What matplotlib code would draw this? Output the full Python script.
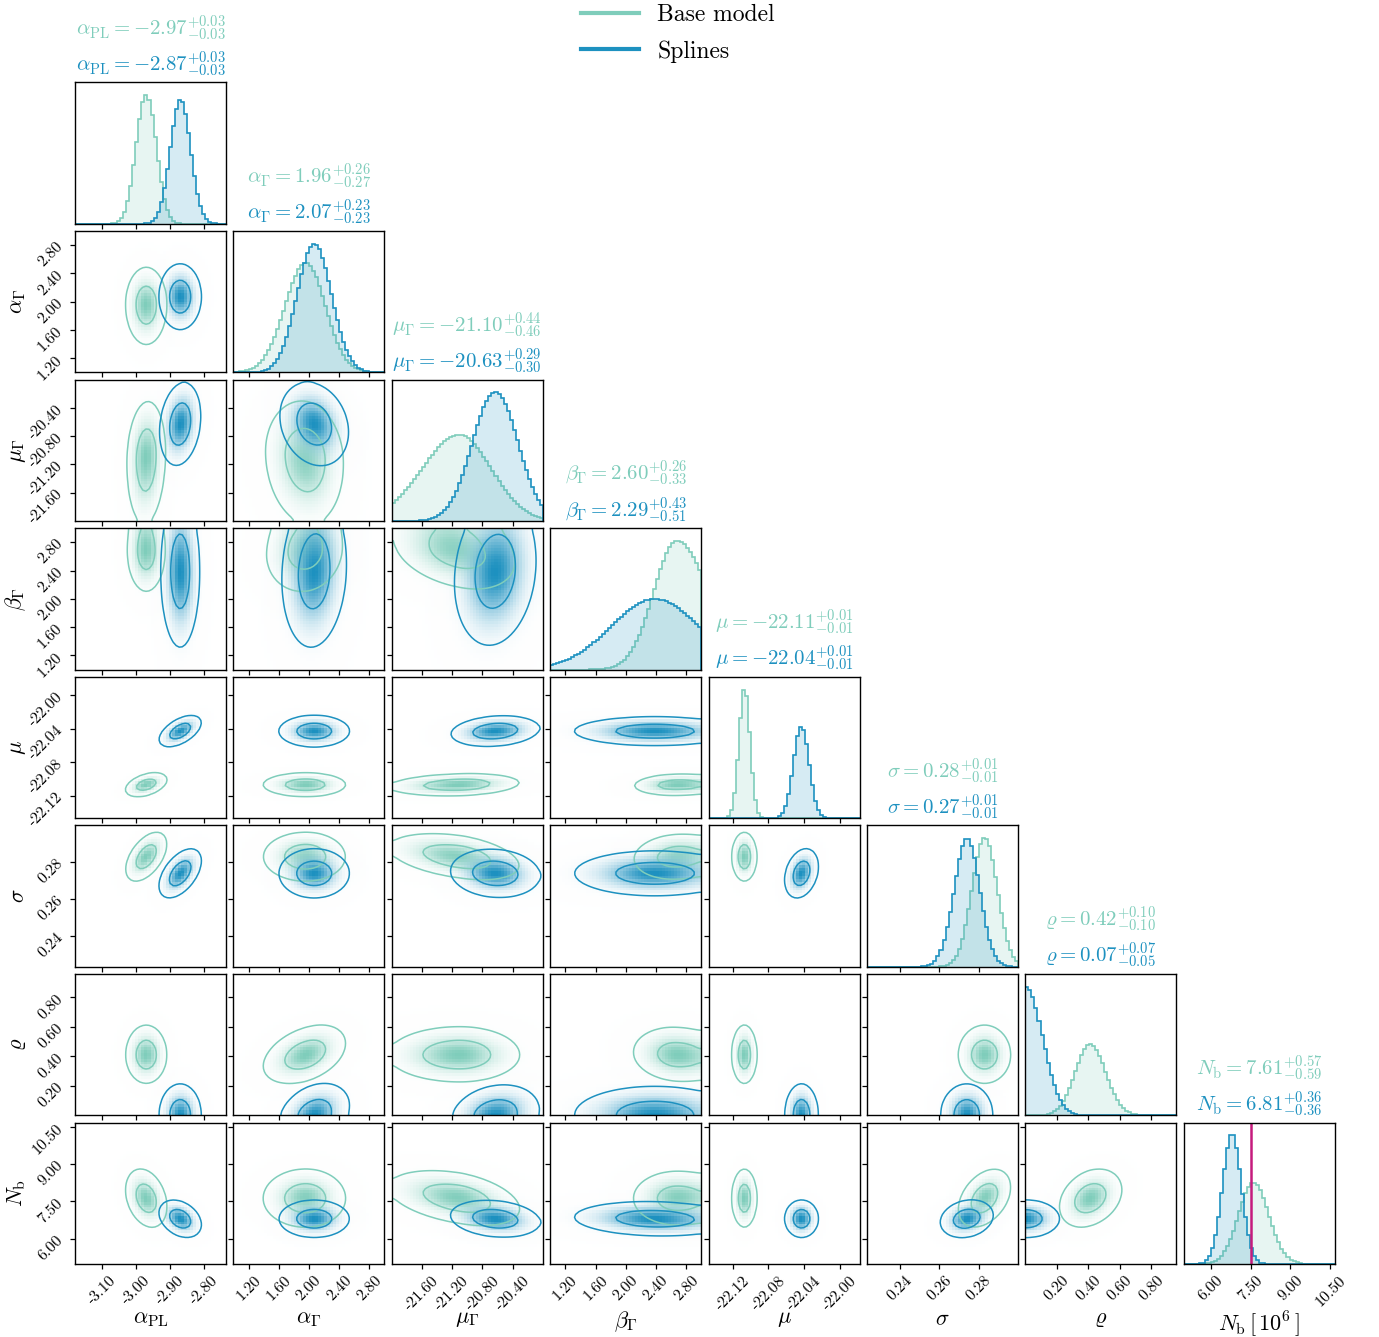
import numpy as np
import matplotlib
matplotlib.use('Agg')
import matplotlib.pyplot as plt
from matplotlib.colors import LinearSegmentedColormap, to_rgba
from matplotlib.lines import Line2D

plt.rcParams['font.family'] = 'serif'
plt.rcParams['font.serif'] = ['cmr10']
plt.rcParams['mathtext.fontset'] = 'cm'
plt.rcParams['axes.unicode_minus'] = False

green = '#7fcdbb'
blue = '#1d91c0'
truth_color = '#c51b7d'

symbols = [r'\alpha_{\rm PL}', r'\alpha_\Gamma', r'\mu_\Gamma', r'\beta_\Gamma',
           r'\mu', r'\sigma', r'\varrho', r'N_{\rm b}']
x_labels = [r'$\alpha_{\rm PL}$', r'$\alpha_\Gamma$', r'$\mu_\Gamma$', r'$\beta_\Gamma$',
            r'$\mu$', r'$\sigma$', r'$\varrho$', r'$N_{\rm b}\,[\,10^6\,]$']
y_labels = ['$%s$' % s for s in symbols]

# axis ranges and ticks per parameter
ranges = [(-3.18, -2.735), (1.0, 3.0), (-22.0, -20.0), (1.0, 3.0),
          (-22.147, -21.978), (0.2234, 0.300), (0.0, 0.96), (4.98, 10.67)]
ticks = [[-3.10, -3.00, -2.90, -2.80],
         [1.20, 1.60, 2.00, 2.40, 2.80],
         [-21.60, -21.20, -20.80, -20.40],
         [1.20, 1.60, 2.00, 2.40, 2.80],
         [-22.12, -22.08, -22.04, -22.00],
         [0.24, 0.26, 0.28],
         [0.20, 0.40, 0.60, 0.80],
         [6.00, 7.50, 9.00, 10.50]]
truth_nb = 7.50

# summary numbers (median, +err, -err)
base_med = [-2.97, 1.96, -21.10, 2.60, -22.11, 0.28, 0.42, 7.61]
base_up = [0.03, 0.26, 0.44, 0.26, 0.01, 0.01, 0.10, 0.57]
base_dn = [0.03, 0.27, 0.46, 0.33, 0.01, 0.01, 0.10, 0.59]
spl_med = [-2.87, 2.07, -20.63, 2.29, -22.04, 0.27, 0.07, 6.81]
spl_up = [0.03, 0.23, 0.29, 0.43, 0.01, 0.01, 0.07, 0.36]
spl_dn = [0.03, 0.23, 0.30, 0.51, 0.01, 0.01, 0.05, 0.36]

# posterior shapes: peak, lower width, upper width
base_peak = [-2.970, 1.96, -21.10, 2.68, -22.107, 0.283, 0.41, 7.62]
base_wlo = [0.029, 0.28, 0.50, 0.31, 0.0062, 0.0065, 0.095, 0.57]
base_whi = [0.029, 0.26, 0.42, 0.42, 0.0062, 0.0065, 0.100, 0.58]
spl_peak = [-2.870, 2.07, -20.63, 2.38, -22.043, 0.274, 0.005, 6.80]
spl_wlo = [0.030, 0.23, 0.30, 0.58, 0.0088, 0.0065, 0.104, 0.36]
spl_whi = [0.030, 0.23, 0.30, 0.60, 0.0088, 0.0065, 0.104, 0.36]

# pairwise correlations, row i holds (i, 0..i-1)
base_corr = [[],
             [0.0],
             [0.1, -0.1],
             [0.0, 0.1, -0.3],
             [0.5, 0.0, 0.2, 0.1],
             [0.55, 0.0, -0.4, 0.1, 0.0],
             [0.0, 0.4, 0.0, -0.1, 0.0, 0.0],
             [-0.3, 0.0, -0.4, 0.0, 0.0, 0.4, 0.3]]
spl_corr = [[],
            [0.0],
            [0.2, -0.2],
            [0.0, 0.1, 0.15],
            [0.6, 0.0, 0.2, 0.0],
            [0.55, 0.0, -0.1, 0.0, 0.3],
            [0.0, 0.3, 0.2, 0.0, 0.0, 0.0],
            [-0.35, 0.0, -0.2, -0.1, 0.0, 0.2, 0.0]]

models = [
    dict(color=green, peak=base_peak, wlo=base_wlo, whi=base_whi, corr=base_corr,
         med=base_med, up=base_up, dn=base_dn, name='Base model'),
    dict(color=blue, peak=spl_peak, wlo=spl_wlo, whi=spl_whi, corr=spl_corr,
         med=spl_med, up=spl_up, dn=spl_dn, name='Splines'),
]

nbins = 50
smooth = 1.0
levels = [1 - np.exp(-0.5), 1 - np.exp(-2.0)]
npar = len(symbols)


def split_z(x, p, wlo, whi):
    return np.where(x < p, (x - p) / wlo, (x - p) / whi)


def gauss_smooth(H, s):
    r = int(np.ceil(4 * s))
    k = np.exp(-0.5 * (np.arange(-r, r + 1) / s) ** 2)
    k /= k.sum()
    Hp = np.pad(H, r, mode='symmetric')
    Hp = np.apply_along_axis(lambda v: np.convolve(v, k, mode='valid'), 1, Hp)
    Hp = np.apply_along_axis(lambda v: np.convolve(v, k, mode='valid'), 0, Hp)
    return Hp


def edges_centers(k):
    e = np.linspace(ranges[k][0], ranges[k][1], nbins + 1)
    return e, 0.5 * (e[1:] + e[:-1])


W, Hfig = 1379, 1337
fig = plt.figure(figsize=(W / 100, Hfig / 100), dpi=100)

left0, colstep, pw = 75.0, 158.4, 151.0
top0, rowstep, ph = 82.3, 148.6, 141.5

axes = {}
for i in range(npar):
    for j in range(i + 1):
        x0 = (left0 + j * colstep) / W
        y0 = 1 - (top0 + i * rowstep + ph) / Hfig
        axes[i, j] = fig.add_axes([x0, y0, pw / W, ph / Hfig])

# 1D marginals
for i in range(npar):
    ax = axes[i, i]
    e, c = edges_centers(i)
    dx = e[1] - e[0]
    top = 0
    for m in models:
        z = split_z(c, m['peak'][i], m['wlo'][i], m['whi'][i])
        vals = np.exp(-0.5 * z ** 2)
        vals = vals / (vals.sum() * dx)
        top = max(top, vals.max())
        ax.stairs(vals, e, fill=True, color=m['color'], alpha=0.18, lw=0)
        ax.stairs(vals, e, color=m['color'], lw=1.2)
    ax.set_ylim(0, 1.1 * top)
    ax.set_yticks([])
    if i == npar - 1:
        ax.axvline(truth_nb, color=truth_color, lw=1.8)
    # summary titles
    for m, dy in zip(models, [34.0, 8.0]):
        txt = r'$%s = %.2f^{+%.2f}_{-%.2f}$' % (symbols[i], m['med'][i], m['up'][i], m['dn'][i])
        ax.annotate(txt, xy=(0.5, 1.0), xycoords='axes fraction', xytext=(0, dy),
                    textcoords='offset points', ha='center', va='baseline',
                    color=m['color'], fontsize=15)

# 2D panels: smoothed density shading plus 1 and 2 sigma contours
for i in range(1, npar):
    ey, cy = edges_centers(i)
    for j in range(i):
        ax = axes[i, j]
        ex, cx = edges_centers(j)
        XX, YY = np.meshgrid(cx, cy)
        for m in models:
            rho = m['corr'][i][j]
            zx = split_z(XX, m['peak'][j], m['wlo'][j], m['whi'][j])
            zy = split_z(YY, m['peak'][i], m['wlo'][i], m['whi'][i])
            H = np.exp(-0.5 * (zx ** 2 - 2 * rho * zx * zy + zy ** 2) / (1 - rho ** 2))
            H = gauss_smooth(H, smooth)
            flat = np.sort(H.ravel())[::-1]
            cum = np.cumsum(flat)
            cum /= cum[-1]
            V = sorted(flat[cum <= lv][-1] for lv in levels)
            cmap = LinearSegmentedColormap.from_list(
                'dens', [(1, 1, 1, 0), to_rgba(m['color'], 1.0)])
            ax.pcolormesh(ex, ey, H, cmap=cmap, vmin=0, vmax=H.max(), shading='flat')
            dxc, dyc = cx[1] - cx[0], cy[1] - cy[0]
            cx2 = np.concatenate([[cx[0] - dxc], cx, [cx[-1] + dxc]])
            cy2 = np.concatenate([[cy[0] - dyc], cy, [cy[-1] + dyc]])
            H2 = np.pad(H, 1, mode='edge')
            ax.contour(cx2, cy2, H2, V, colors=[m['color']], linewidths=1.1)
        ax.set_ylim(ranges[i])

# shared axis formatting
for (i, j), ax in axes.items():
    ax.set_xlim(ranges[j])
    ax.set_xticks(ticks[j])
    for s in ax.spines.values():
        s.set_linewidth(1.0)
    ax.tick_params(direction='out', length=3.5, width=0.9, labelsize=11.5)
    if i == npar - 1:
        ax.set_xticklabels(['%.2f' % t for t in ticks[j]], rotation=45)
        ax.set_xlabel(x_labels[j], fontsize=16)
        ax.xaxis.set_label_coords(0.5, -0.32)
    else:
        ax.set_xticklabels([])
    if i != j:
        ax.set_yticks(ticks[i])
        if j == 0:
            ax.set_yticklabels(['%.2f' % t for t in ticks[i]], rotation=45)
            ax.set_ylabel(y_labels[i], fontsize=16)
            ax.yaxis.set_label_coords(-0.31, 0.5)
        else:
            ax.set_yticklabels([])

handles = [Line2D([], [], color=m['color'], lw=3) for m in models]
fig.legend(handles, [m['name'] for m in models], loc='upper left',
           bbox_to_anchor=(580.7 / W, 0.9972), frameon=False, fontsize=17,
           handlelength=2.45, handletextpad=0.8, labelspacing=0.6,
           borderpad=0, borderaxespad=0)

fig.savefig('out.png', dpi=100)
